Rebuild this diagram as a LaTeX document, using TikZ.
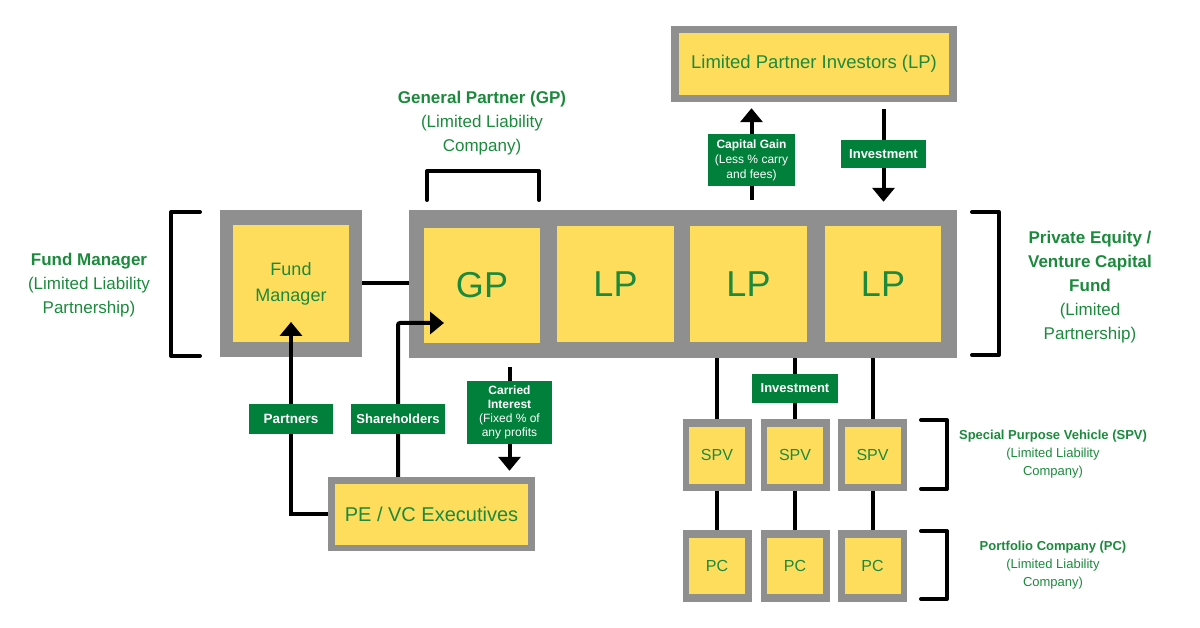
\documentclass[tikz,border=0pt]{standalone}
\usepackage{fontspec}
\setmainfont{Liberation Sans}
\usetikzlibrary{positioning,calc,arrows.meta}
\definecolor{boxgray}{HTML}{8F8F8F}
\definecolor{boxyellow}{HTML}{FFDD5C}
\definecolor{txtgreen}{HTML}{1B8A3D}
\definecolor{taggreen}{HTML}{00803A}

\begin{document}
\begin{tikzpicture}[x=1pt,y=-1pt,%
      frame/.style={fill=boxgray,inner sep=0pt},%
      cell/.style={fill=boxyellow,text=txtgreen,inner sep=0pt,align=center},%
      tag/.style={fill=taggreen,text=white,inner sep=0pt,align=center},%
      note/.style={text=txtgreen,inner sep=0pt,align=center},%
      link/.style={line width=4pt},%
      arr/.style={line width=4pt,-{Triangle[width=22pt,length=14pt]}},%
      brace/.style={line width=4pt,line cap=round,line join=round}]
      \useasboundingbox (0,0) rectangle (1200,628);

      % % Fund manager
      \node[frame,minimum width=142pt,minimum height=147pt] (fm) at (291,283.5) {};
      \node[cell,minimum width=116pt,minimum height=117pt,font=\fontsize{18}{26}\selectfont] (fmcell) at (291,283.5) {Fund\\Manager};

      % % Fund with GP and LPs
      \node[frame,minimum width=548pt,minimum height=148pt] (fund) at (683,284) {};
      \node[cell,minimum width=116pt,minimum height=115pt,font=\fontsize{36}{40}\selectfont] (gp) at (482,285.5) {GP};
      \node[cell,minimum width=117pt,minimum height=116pt,font=\fontsize{36}{40}\selectfont] (lpa) at (615.5,284) {LP};
      \node[cell,minimum width=117pt,minimum height=116pt,font=\fontsize{36}{40}\selectfont] (lpb) at (748.5,284) {LP};
      \node[cell,minimum width=116pt,minimum height=116pt,font=\fontsize{36}{40}\selectfont] (lpc) at (883,284) {LP};

      % % Investors and executives
      \node[frame,minimum width=286pt,minimum height=76pt] (lpi) at (814,64) {};
      \node[cell,minimum width=270pt,minimum height=62pt,font=\fontsize{18.5}{22}\selectfont] (lpicell) at (814,64) {Limited Partner Investors (LP)};
      \node[frame,minimum width=207pt,minimum height=74pt] (pevc) at (431.5,514) {};
      \node[cell,minimum width=193pt,minimum height=61pt,font=\fontsize{20}{24}\selectfont] (pevccell) at (431.5,514.5) {PE / VC Executives};

      % % SPVs and portfolio companies
      \node[frame,minimum width=69pt,minimum height=72pt] (spva) at (717,455) {};
      \node[frame,minimum width=69pt,minimum height=72pt] (spvb) at (795,455) {};
      \node[frame,minimum width=69pt,minimum height=72pt] (spvc) at (872.5,455) {};
      \node[cell,minimum width=56pt,minimum height=57pt,font=\fontsize{16}{18}\selectfont] at (spva) {SPV};
      \node[cell,minimum width=56pt,minimum height=57pt,font=\fontsize{16}{18}\selectfont] at (spvb) {SPV};
      \node[cell,minimum width=56pt,minimum height=57pt,font=\fontsize{16}{18}\selectfont] at (spvc) {SPV};
      \node[frame,minimum width=69pt,minimum height=72pt] (pca) at (717,566) {};
      \node[frame,minimum width=69pt,minimum height=72pt] (pcb) at (795,566) {};
      \node[frame,minimum width=69pt,minimum height=72pt] (pcc) at (872.5,566) {};
      \node[cell,minimum width=56pt,minimum height=56pt,font=\fontsize{16}{18}\selectfont] at (pca) {PC};
      \node[cell,minimum width=56pt,minimum height=56pt,font=\fontsize{16}{18}\selectfont] at (pcb) {PC};
      \node[cell,minimum width=56pt,minimum height=56pt,font=\fontsize{16}{18}\selectfont] at (pcc) {PC};

      % % Connectors
      \coordinate (fmtip) at (291,322);
      \coordinate (shbend) at (398,323);
      \coordinate (shtip) at (444,323);
      \coordinate (cipos) at (509.5,412.5);
      \coordinate (cgpos) at (751.5,160);
      \coordinate (invpos) at (883.5,154);
      \draw[link] (fm.east) -- (fm.east -| fund.west);
      \draw[arr] (pevc.west) -| (fmtip);
      \draw[arr,rounded corners=2pt] (pevc.north -| shbend) -- (shbend) -- (shtip);
      \draw[arr,shorten <=9pt,shorten >=6pt] (fund.south -| cipos) -- (pevc.north -| cipos);
      \draw[arr,shorten <=10pt,shorten >=6pt] (fund.north -| cgpos) -- (lpi.south -| cgpos);
      \draw[arr,shorten <=7pt,shorten >=8pt] (lpi.south -| invpos) -- (fund.north -| invpos);
      \draw[link] (fund.south -| spva) -- (spva.north);
      \draw[link] (fund.south -| spvb) -- (spvb.north);
      \draw[link] (fund.south -| spvc) -- (spvc.north);
      \draw[link] (spva.south) -- (pca.north);
      \draw[link] (spvb.south) -- (pcb.north);
      \draw[link] (spvc.south) -- (pcc.north);

      % % Tags
      \node[tag,minimum width=84pt,minimum height=30pt,font=\bfseries\fontsize{13.5}{16}\selectfont] (ptag) at (291,419) {Partners};
      \node[tag,minimum width=94pt,minimum height=30pt,font=\bfseries\fontsize{13}{16}\selectfont] (shtag) at (398,419) {Shareholders};
      \node[tag,minimum width=85pt,minimum height=63pt,font=\fontsize{12}{14}\selectfont] (citag) at (cipos) {\textbf{Carried}\\\textbf{Interest}\\(Fixed \% of\\any profits};
      \node[tag,minimum width=87pt,minimum height=52pt,font=\fontsize{12}{15}\selectfont] (cgtag) at (cgpos) {\textbf{Capital Gain}\\(Less \% carry\\and fees)};
      \node[tag,minimum width=85pt,minimum height=28pt,font=\bfseries\fontsize{13}{16}\selectfont] (invtag) at (invpos) {Investment};
      \node[tag,minimum width=86pt,minimum height=29pt,font=\bfseries\fontsize{13}{16}\selectfont] (invtagb) at (795,388.5) {Investment};

      % % Notes
      \node[note,font=\fontsize{17}{24}\selectfont] (fmnote) at (89,285) {\textbf{Fund Manager}\\(Limited Liability\\Partnership)};
      \node[note,font=\fontsize{17}{24}\selectfont] (gpnote) at (482,123) {\textbf{General Partner (GP)}\\(Limited Liability\\Company)};
      \node[note,font=\fontsize{17}{24}\selectfont] (fundnote) at (1090,287) {\textbf{Private Equity /}\\\textbf{Venture Capital}\\\textbf{Fund}\\(Limited\\Partnership)};
      \node[note,font=\fontsize{13}{18}\selectfont] (spvnote) at (1053,454) {\textbf{Special Purpose Vehicle (SPV)}\\(Limited Liability\\Company)};
      \node[note,font=\fontsize{13}{18}\selectfont] (pcnote) at (1053,565) {\textbf{Portfolio Company (PC)}\\(Limited Liability\\Company)};

      % % Brackets
      \draw[brace] (200,212) -- (171,212) -- (171,356) -- (200,356);
      \draw[brace] (427,200) -- (427,171) -- (539,171) -- (539,200);
      \draw[brace] (972,212) -- (999,212) -- (999,355) -- (972,355);
      \draw[brace] (921,420) -- (947,420) -- (947,489) -- (921,489);
      \draw[brace] (921,531) -- (947,531) -- (947,599) -- (921,599);
  \end{tikzpicture}
\end{document}
